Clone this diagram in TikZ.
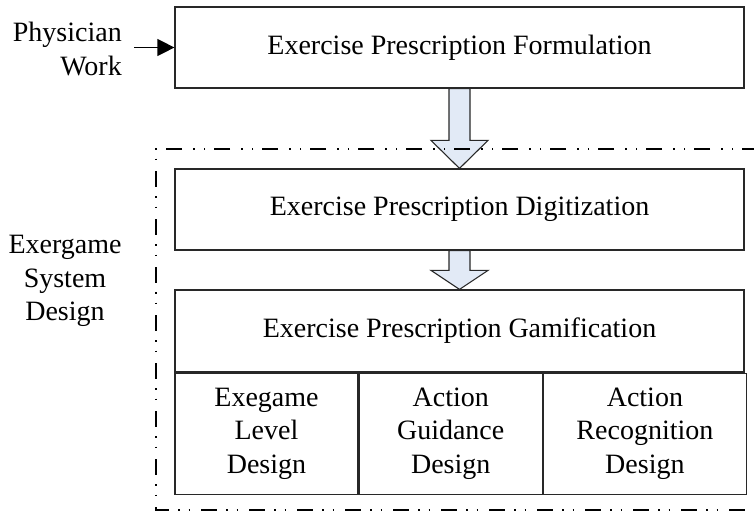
\documentclass[tikz,border=0pt]{standalone}
\usepackage{fontspec}
\setmainfont{Liberation Serif}
\usetikzlibrary{positioning, arrows.meta, calc}

\begin{document}
\begin{tikzpicture}[x=1pt, y=-1pt,
box/.style={draw=boxline, line width=1.2pt, minimum height=81pt, align=center, inner sep=0pt},
sub/.style={box, minimum height=121pt},
arrow/.style={line width=1.2pt, -{Triangle[length=17pt, width=17pt]}},
hollow/.style={draw=boxline, line width=1.1pt, fill=softblue},
frame/.style={line width=1.4pt, dash pattern=on 16pt off 9pt on 1.5pt off 9pt on 1.5pt off 11pt},
label/.style={align=center, inner sep=0pt}]

% Define colors
\definecolor{softblue}{RGB}{226, 234, 246}
\definecolor{boxline}{RGB}{40, 40, 40}

\useasboundingbox (0,0) rectangle (754,515);
\fontsize{28pt}{33.5pt}\selectfont

% Nodes
\node[box, minimum width=569pt] (form) at (459.5,47.5) {Exercise Prescription Formulation};
\node[box, minimum width=569pt] (digit) at (459.5,209.5) {Exercise Prescription Digitization};
\node[box, minimum width=569pt, minimum height=82pt] (gamif) at (459.5,331) {Exercise Prescription Gamification};
\node[sub, minimum width=183pt, below right=0pt and 0pt of gamif.south west] (level) {Exegame\\ Level\\ Design};
\node[sub, minimum width=183pt, right=0pt of level] (guide) {Action\\ Guidance\\ Design};
\node[sub, minimum width=203pt, right=0pt of guide] (recog) {Action\\ Recognition\\ Design};

\node[label, align=right, anchor=east] (phys) at (122,49) {Physician\\ Work};
\node[label] (system) at (65,281) {Exergame\\ System\\ Design};

% Arrows
\draw[arrow] ([xshift=12pt]phys.east |- form.west) -- (form.west);
\draw[hollow] let \p1=(form.south), \p2=(digit.north) in
  (\x1-10.5pt,\y1) -- (\x1-10.5pt,\y2+28pt) -- (\x1-28.5pt,\y2+28pt) -- (\x1,\y2)
  -- (\x1+28.5pt,\y2+28pt) -- (\x1+10.5pt,\y2+28pt) -- (\x1+10.5pt,\y1) -- cycle;
\draw[hollow] let \p1=(digit.south), \p2=(gamif.north) in
  (\x1-10.5pt,\y1) -- (\x1-10.5pt,\y2+19pt) -- (\x1-28.5pt,\y2+19pt) -- (\x1,\y2)
  -- (\x1+28.5pt,\y2+19pt) -- (\x1+10.5pt,\y2+19pt) -- (\x1+10.5pt,\y1) -- cycle;

% System frame
\draw[frame] (758,149) -| (156,510) -- (758,510);

\end{tikzpicture}
\end{document}
